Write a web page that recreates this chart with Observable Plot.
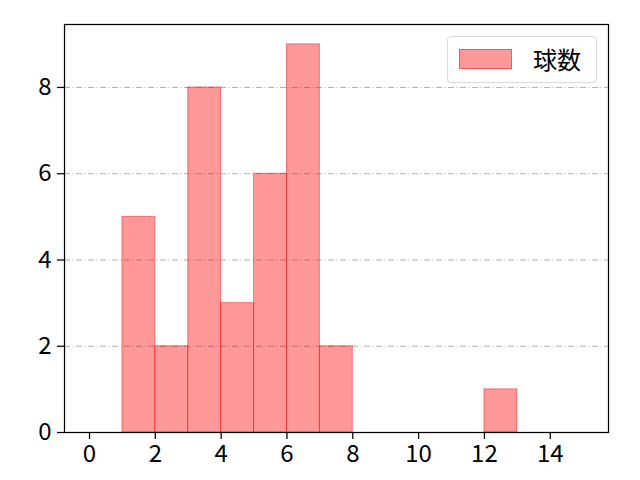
<!DOCTYPE html>
<html>
<head>
<meta charset="utf-8">
<script src="https://cdn.jsdelivr.net/npm/d3@7"></script>
<script src="https://cdn.jsdelivr.net/npm/@observablehq/plot@0.6"></script>
<style>
body { margin: 0; background: #fff; }
#wrap { position: relative; width: 640px; height: 480px; font-family: "Noto Sans CJK JP", "DejaVu Sans", sans-serif; }
#wrap svg text { font-size: 24px !important; font-family: "Noto Sans CJK JP", sans-serif !important; }
#legend { position: absolute; left: 447px; top: 36px; width: 150px; height: 47px; border: 1px solid #d9d9d9; border-radius: 4px; background: rgba(255,255,255,0.8); box-sizing: border-box; }
#legend .sw { position: absolute; left: 11px; top: 12px; width: 53px; height: 20px; background: rgba(255,0,0,0.4); border: 1px solid rgba(255,0,0,0.45); box-sizing: border-box; }
#legend .lb { position: absolute; left: 85px; top: 4px; font-size: 24px; line-height: 36px; color: #000; }
</style>
</head>
<body>
<div id="wrap"><div id="legend"><div class="sw"></div><div class="lb">球数</div></div></div>
<script>
const binStart = [1, 2, 3, 4, 5, 6, 7, 12];
const binEnd = [2, 3, 4, 5, 6, 7, 8, 13];
const counts = [5, 2, 8, 3, 6, 9, 2, 1];
const xTicks = [0, 2, 4, 6, 8, 10, 12, 14];
const yTicks = [0, 2, 4, 6, 8];

const data = binStart.map((s, i) => ({x1: s, x2: binEnd[i], y: counts[i]}));

const chart = Plot.plot({
  width: 640,
  height: 480,
  marginLeft: 64,
  marginRight: 32,
  marginTop: 24,
  marginBottom: 48,
  style: {fontFamily: '"Noto Sans CJK JP", "DejaVu Sans", sans-serif', fontSize: "24px", color: "#000", background: "#fff"},
  x: {domain: [-0.76, 15.77]},
  y: {domain: [0, 9.46]},
  marks: [
    Plot.gridY(yTicks.filter(d => d > 0), {stroke: "#b0b0b0", strokeOpacity: 1, strokeWidth: 1, strokeDasharray: "6,2.5,1,2.5"}),
    Plot.rectY(data, {x1: "x1", x2: "x2", y: "y", fill: "red", fillOpacity: 0.4, stroke: "red", strokeOpacity: 0.45, strokeWidth: 1}),
    Plot.frame({stroke: "#000", strokeWidth: 1.25}),
    Plot.axisX(xTicks, {tickSize: 7, tickPadding: 5, strokeWidth: 1.25, label: null}),
    Plot.axisY(yTicks, {tickSize: 7, tickPadding: 6, strokeWidth: 1.25, label: null})
  ]
});
document.getElementById("wrap").prepend(chart);
chart.style.position = "absolute";
chart.style.left = "0";
chart.style.top = "0";
</script>
</body>
</html>
